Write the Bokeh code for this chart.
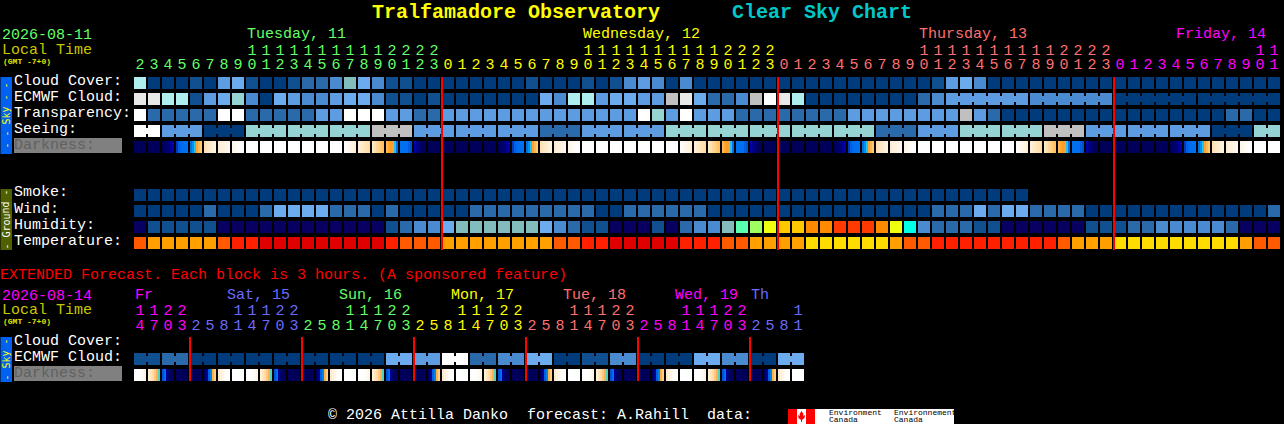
from bokeh.plotting import figure
from bokeh.models import Range1d
from bokeh.core.properties import value
from bokeh.embed import file_html
from bokeh.resources import INLINE

# ---------- data ----------
main_hours = [2,3,4,5,6,7,8,9,10,11,12,13,14,15,16,17,18,19,20,21,22,23,
              0,1,2,3,4,5,6,7,8,9,10,11,12,13,14,15,16,17,18,19,20,21,22,23,
              0,1,2,3,4,5,6,7,8,9,10,11,12,13,14,15,16,17,18,19,20,21,22,23,
              0,1,2,3,4,5,6,7,8,9,10,11]
ext_hours = [14,17,20,23, 2,5,8,11,14,17,20,23, 2,5,8,11,14,17,20,23, 2,5,8,11,14,17,20,23,
             2,5,8,11,14,17,20,23, 2,5,8,11,14,17,20,23, 2,5,8,11]

cloud_cover = "QDDDCDMLCDDCBBAKLACCDD" "DDDDDDCDDDCDCAMADA" "DDDDDDDDDDDDDDDDD" "CMLA" "DDDDDDDDDDDDDDDDDDDDD"
ecmwf_cloud = "EEQQCMLTADLMAAMLLACCDC" "DDDDDDDLAQQMLLMMGELBBAGWEQ" "DDDDDDDD" "BA" "MMMMMM" "AAAAAA" "DDDDDDDDDDDD"
ecmwf_spans = [1]*58 + [6, 6, 6, 6]
transparency = "WBBBBBWWBBBBBMMWWWMMBB" "MMMMMMMMMMMMMM" "WTMWMMM" "BBBBBBBB" "MMMMMMMM" "GMB" "DDDDDDDDDDDDDDDD" "BBDD"
seeing_groups = "WMDTTTGMMMBMMTTTTTBMTTGMMMDT"
seeing_spans = [2] + [3]*26 + [2]
smoke = "DDDDDDDDDDDDDDDDDDDDDDDDDDDDDDDDDDDDDDDDDDDDDDDDDDDDDDDDDDDDDDDD"
wind = "DDDDDBDDDBLLLLBBBDBDDD" "DD" "BBBBBBBBB" "DD" "BBBBBB" "DDDDDDDDDDDDDDDD" "BBBLBLL" "BBBB" "DDDDDDDDDDDDD" "B"
humidity = "NCCCCCNNNNNNNNNNNNCBAA" "LKKKKKKLABCCNNNCNBAAK123" "445566" "6537" "A" "BBB" "CC" "NNNNNN" "CCC" "BB" "AAAAA" "B" "NNN"
temperature = "ROOOOORFFXXXXXXXXXFRRR" "OOOOOOOO" "RR" "FF" "XXXXX" "FFF" "RR" "OOOO" "YYYYYY" "O" "RR" "FFFFFFFFF" "R" "OOO" "YYYYYYYYY" "O" "RR"
ext_ecmwf_groups = "CBDDDDDDDLMWBALDCADDLADL"

day_labels = [("Tuesday, 11", 247, "#66ff66"), ("Wednesday, 12", 583, "#ffff00"),
              ("Thursday, 13", 919, "#ff7070"), ("Friday, 14", 1176, "#ff00ff")]
ext_day_labels = [("Fr", 135, "#ff00ff"), ("Sat, 15", 227, "#6b6bff"), ("Sun, 16", 339, "#66ff66"),
                  ("Mon, 17", 451, "#ffff00"), ("Tue, 18", 563, "#ff7070"),
                  ("Wed, 19", 675, "#ff00ff"), ("Th", 751, "#6b6bff")]
main_day_colors = ["#66ff66", "#ffff00", "#ff7070", "#ff00ff"]
ext_day_colors = ["#ff00ff", "#6b6bff", "#66ff66", "#ffff00", "#ff7070", "#ff00ff", "#6b6bff"]

# ---------- palettes ----------
sky = {"D": "#003c7c", "C": "#105090", "B": "#2a6aab", "A": "#4a8ad0", "M": "#5e9ce2", "L": "#6cabee",
       "K": "#82bcbc", "T": "#96d4d4", "Q": "#aeeeee", "G": "#c0c0c0", "E": "#e8e8e8", "W": "#ffffff",
       "N": "#080060", "1": "#5affb0", "2": "#a0ff60", "3": "#eeff10", "4": "#ffc800", "5": "#ff8a00",
       "6": "#ff3a00", "7": "#00ffe8"}
temp = {"R": "#ff5a00", "O": "#ffa000", "F": "#ff2000", "X": "#e00000", "Y": "#ffdc00"}

_n = ["#00005a"]*6
_w = ["#ffffff"]*6
dark_stops = {0:_n, 1:_n, 2:_n, 3:_n, 23:_n,
    4:["#00005a","#000060","#000068","#000078","#000090","#0000a8"],
    5:["#0038c0","#0060e0","#0068f0","#0070f0","#0070f0","#0070f0"],
    6:["#0070e0","#0090f0","#20c0f0","#ffa030","#ffb850","#ffc868"],
    7:["#ffe0b0","#ffe4bc","#ffe8c6","#ffecd0","#fff0d8","#fff2de"],
    8:["#ffecd0","#fff0d8","#fff2de","#fff4e4","#fff6e8","#fff8ee"],
    9:["#fff6ea","#fff8ee","#fffaf2","#fffbf6","#fffdf9","#fffefc"],
    10:_w, 11:_w, 12:_w, 13:_w, 14:_w, 15:_w, 16:_w,
    17:["#fffdf8","#fffbf4","#fff8ee","#fff6e8","#fff4e2","#fff0da"],
    18:["#fff0d8","#ffecd0","#ffe8c6","#ffe4bc","#ffe0b0","#ffdcaa"],
    19:["#ffe8c4","#ffe0b0","#ffd89c","#ffd088","#ffc874","#ffc060"],
    20:["#ffb850","#ffa830","#ff9c28","#ffa030","#20c0f0","#0070f0"],
    21:["#0070f0","#0070f0","#0070f0","#0070f0","#0060e0","#0050d0"],
    22:["#0000b0","#000090","#000078","#000068","#000060","#00005a"]}
ext_dark_stops = {2:_n, 23:_n, 11:_w,
    14:["#ffffff","#ffffff","#ffffff","#fffdf8","#fffaf0","#fff6e8"],
    17:["#fff0d8","#ffe6c0","#ffdcaa","#ffc880","#ffb050","#50d0c0"],
    20:["#0050e0","#0070f0","#000090","#000070","#000060","#00005a"],
    5:["#00005a","#000090","#0060e0","#0080f0","#ffb040","#ffd080"],
    8:["#ffe8cc","#fff0dc","#fff6e8","#fffaf2","#fffdf9","#ffffff"]}

# ---------- layout ----------
W, H = 1284, 424
X0, PITCH, BW, BH = 134, 14, 12, 12
FONT = "Liberation Mono"

p = figure(width=W, height=H, output_backend="svg", toolbar_location=None,
           x_range=Range1d(0.5, W+0.5), y_range=Range1d(H+0.5, 0.5), min_border=0,
           background_fill_color="#000000", border_fill_color="#000000", outline_line_color=None)
p.axis.visible = False
p.grid.visible = False
p.styles = {"position": "fixed", "left": "0px", "top": "0px", "background-color": "#000000"}

bars = dict(left=[], right=[], top=[], bottom=[], color=[])
def bar(l, r, t, b, c):
    bars["left"].append(l); bars["right"].append(r); bars["top"].append(t); bars["bottom"].append(b); bars["color"].append(c)

def row(codes, y, pal, spans=None):
    spans = spans or [1]*len(codes)
    col = 0
    for s in spans:
        for j in range(s):
            x = X0 + PITCH*(col+j)
            c = pal[codes[col+j]]
            bar(x, x+BW, y, y+BH, c)
            if j < s-1:
                bar(x+BW, x+PITCH, y+3, y+9, c)
        col += s

def grouped(groups, y, spans):
    codes = []
    for g, s in zip(groups, spans):
        codes += [g]*s
    row(codes, y, sky, spans)

def darkness(hours, y, stops):
    for i, h in enumerate(hours):
        for j, c in enumerate(stops[h]):
            x = X0 + PITCH*i + 2*j
            bar(x, x+2, y, y+BH, c)

# side bars + label background
bar(0, 12, 77, 154, "#0060f0")
bar(0, 12, 189, 250, "#506000")
bar(0, 12, 337, 382, "#0060f0")
bar(14, 122, 138, 153, "#808080")
bar(14, 122, 366, 381, "#808080")

row(cloud_cover, 77, sky)
row(ecmwf_cloud, 93, sky, ecmwf_spans)
row(transparency, 109, sky)
grouped(seeing_groups, 125, seeing_spans)
darkness(main_hours, 141, dark_stops)
row(smoke, 189, sky)
row(wind, 205, sky)
row(humidity, 221, sky)
row(temperature, 237, temp)
grouped(ext_ecmwf_groups, 353, [2]*len(ext_ecmwf_groups))
darkness(ext_hours, 369, ext_dark_stops)

# logo background and flag
bar(788, 954, 409, 424, "#ffffff")
bar(788, 797, 409, 424, "#ff0000")
bar(806, 815, 409, 424, "#ff0000")

# midnight lines
for i, h in enumerate(main_hours):
    if h == 0:
        x = X0 + PITCH*i
        bar(x-1, x+1, 77, 250, "#ff0000")
for i, h in enumerate(ext_hours):
    if h == 2:
        x = X0 + PITCH*i
        bar(x-1, x+1, 337, 381, "#ff0000")

p.quad(left="left", right="right", top="top", bottom="bottom", fill_color="color",
       line_color=None, source=bars)

# maple leaf
p.patch([801.5,799.5,800,798,798.5,801,801,802,802,804.5,805,803,803.5],
        [411,414,416,415,418,420,422,422,420,418,415,416,414], fill_color="#ff0000", line_color=None)

def txt(x, y, t, color, size=15, bold=False, align="left", angle=0, baseline="alphabetic", font=FONT):
    dy = size*0.3 if baseline == "alphabetic" else 0
    p.text(x=[x], y=[y-dy], text=[t], text_color=color, text_font=value(font), text_font_size=f"{size}px",
           text_font_style="bold" if bold else "normal", text_align=align, text_baseline=baseline, angle=angle)

txt(372, 18, "Tralfamadore Observatory", "#ffff00", 20, True)
txt(732, 18, "Clear Sky Chart", "#00c8c8", 20, True)

txt(2, 38.5, "2026-08-11", "#66ff66")
txt(2, 55, "Local Time", "#c8c800")
txt(3, 63.5, "(GMT -7+0)", "#e0e000", 8, True)
for t, x, c in day_labels:
    txt(x, 38.5, t, c)

def hour_digits(hours, colors, y_tens, y_ones):
    day = 0
    for i, h in enumerate(hours):
        if i and h < hours[i-1]:
            day += 1
        c = colors[day]
        x = X0 + PITCH*i + 6
        txt(x, y_ones, str(h % 10), c, align="center")
        if h >= 10:
            txt(x, y_tens, str(h // 10), c, align="center")

hour_digits(main_hours, main_day_colors, 54.5, 68.5)

labels = [("Cloud Cover:", 86), ("ECMWF Cloud:", 102), ("Transparency:", 118), ("Seeing:", 134),
          ("Smoke:", 197), ("Wind:", 214), ("Humidity:", 230), ("Temperature:", 246)]
for t, y in labels:
    txt(14, y, t, "#ffffff")
txt(14, 149.5, "Darkness:", "#606060")

txt(6, 115.5, "- - Sky - -", "#ffff00", 10, align="center", angle=1.5708, baseline="middle", font="DejaVu Sans Mono")
txt(6, 219.5, "- Ground -", "#ffffff", 10, align="center", angle=1.5708, baseline="middle", font="DejaVu Sans Mono")
txt(6, 359.5, "- Sky -", "#ffff00", 10, align="center", angle=1.5708, baseline="middle", font="DejaVu Sans Mono")

txt(0, 280, "EXTENDED Forecast. Each block is 3 hours. (A sponsored feature)", "#ff0000")
txt(2, 299.5, "2026-08-14", "#ff00ff")
txt(2, 314.5, "Local Time", "#c8c800")
txt(3, 323.5, "(GMT -7+0)", "#e0e000", 8, True)
for t, x, c in ext_day_labels:
    txt(x, 299.5, t, c)
hour_digits(ext_hours, ext_day_colors, 314.5, 329.5)
txt(14, 345.5, "Cloud Cover:", "#ffffff")
txt(14, 361.5, "ECMWF Cloud:", "#ffffff")
txt(14, 377.5, "Darkness:", "#606060")

txt(328, 419.5, "\u00a9 2026 Attilla Danko", "#ffffff")
txt(527, 419.5, "forecast: A.Rahill", "#ffffff")
txt(707, 419.5, "data:", "#ffffff")

txt(829, 415.2, "Environment", "#000000", 8)
txt(829, 422.2, "Canada", "#000000", 8)
txt(894, 415.2, "Environnement", "#000000", 8)
txt(894, 422.2, "Canada", "#000000", 8)

open("out.html", "w").write(file_html(p, INLINE))
